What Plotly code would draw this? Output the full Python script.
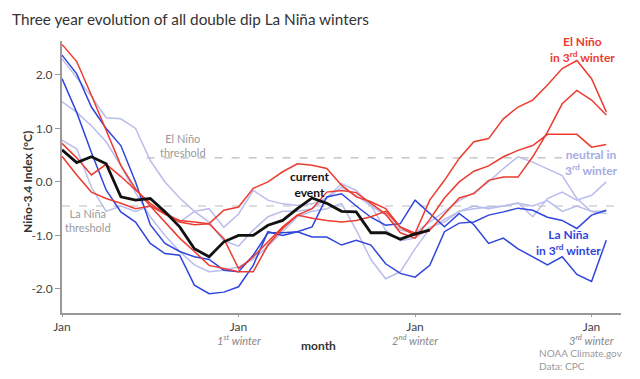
import plotly.graph_objects as go

months = list(range(38))
current_months = list(range(26))

red_a = [2.57, 2.25, 1.62, 0.96, 0.31, -0.13, -0.45, -0.6, -0.72, -0.75,
         -0.78, -0.53, -0.47, -0.12, 0.0, 0.19, 0.34, 0.31, 0.25, -0.06,
         -0.28, -0.37, -0.5, -0.84, -0.96, -0.34, 0.03, 0.44, 0.75, 0.81,
         1.18, 1.4, 1.53, 1.81, 2.12, 2.27, 1.93, 1.31]
red_b = [0.72, 0.45, 0.13, 0.33, 0.1, -0.15, -0.4, -0.6, -0.75, -0.8,
         -0.78, -1.06, -1.62, -1.4, -1.12, -0.84, -0.62, -0.68, -0.72, -0.75,
         -0.72, -0.65, -0.55, -0.85, -1.0, -0.9, -0.6, -0.3, -0.22, 0.03,
         0.09, 0.09, 0.47, 0.93, 1.46, 1.71, 1.53, 1.25]
red_c = [0.48, 0.13, -0.19, -0.31, -0.4, -0.5, -0.45, -0.75, -1.05, -1.3,
         -1.56, -1.62, -1.68, -1.68, -1.18, -0.87, -0.62, -0.5, -0.19, -0.16,
         -0.2, -0.4, -0.6, -0.95, -1.05, -0.7, -0.3, 0.0, 0.2, 0.3,
         0.47, 0.59, 0.68, 0.89, 0.89, 0.89, 0.65, 0.70]
blue_p = [1.93, 1.3, 0.55, -0.15, -0.56, -0.75, -1.15, -1.34, -1.37, -1.93,
          -2.09, -2.06, -1.96, -1.56, -0.93, -1.0, -0.93, -0.84, -0.28, -0.22,
          -0.45, -0.66, -0.81, -0.78, -0.34, -0.59, -0.84, -0.59, -0.8, -1.15,
          -1.05, -1.25, -1.4, -1.55, -1.4, -1.73, -1.86, -1.09]
blue_l = [2.37, 2.02, 1.4, 1.0, 0.68, 0.0, -0.8, -1.15, -1.3, -1.4,
          -1.45, -1.65, -1.68, -1.37, -0.95, -0.95, -0.93, -1.03, -1.03, -1.18,
          -1.09, -1.18, -1.53, -1.71, -1.78, -1.56, -0.93, -0.77, -0.75, -0.62,
          -0.56, -0.49, -0.53, -0.66, -0.72, -0.87, -0.62, -0.53]
light_1 = [2.3, 1.96, 1.6, 1.2, 1.18, 1.0, 0.4, 0.0, -0.3, -0.55,
           -0.75, -1.1, -1.2, -0.9, -0.65, -0.55, -0.55, -0.5, -0.3, -0.1,
           -0.25, -0.45, -0.62, -0.9, -0.95, -0.75, -0.55, -0.35, -0.2, 0.0,
           0.25, 0.47, 0.37, 0.25, 0.12, -0.31, -0.56, -0.59]
light_2 = [1.5, 1.3, 1.05, 0.75, 0.3, -0.2, -0.65, -1.0, -1.3, -1.55,
           -1.68, -1.65, -1.59, -1.45, -1.2, -0.93, -0.65, -0.55, -0.5, -0.4,
           -0.9, -1.45, -1.81, -1.68, -1.25, -0.87, -0.7, -0.55, -0.5, -0.47,
           -0.45, -0.39, -0.65, -0.31, -0.19, -0.34, -0.25, 0.0]
light_3 = [0.78, 0.62, -0.1, -0.55, -0.45, -0.55, -0.45, -0.55, -0.75, -0.55,
           -0.5, -0.85, -0.6, -0.16, -0.34, -0.41, -0.44, -0.41, -0.3, -0.03,
           -0.16, -0.44, -0.9, -1.1, -1.05, -0.85, -0.75, -0.55, -0.45, -0.5,
           -0.45, -0.4, -0.45, -0.35, -0.55, -0.45, -0.55, -0.55]
current = [0.6, 0.36, 0.47, 0.34, -0.28, -0.34, -0.31, -0.56, -0.84, -1.25,
           -1.4, -1.12, -1.0, -1.0, -0.81, -0.72, -0.5, -0.3, -0.4, -0.55,
           -0.56, -0.95, -0.95, -1.07, -0.97, -0.9]

tick_vals = [0, 12, 24, 36]
tick_main = ["Jan", "Jan", "Jan", "Jan"]
tick_sub = ["", "1<sup>st</sup> winter", "2<sup>nd</sup> winter", "3<sup>rd</sup> winter"]
y_ticks = [-2, -1, 0, 1, 2]
y_tick_text = ["-2.0", "-1.0", "0.0", "1.0", "2.0"]
el_nino_thr = 0.45
la_nina_thr = -0.45

RED = "#ec3b2f"
BLUE = "#2f45dc"
LIGHT = "#b9bdec"
FONT = "Lato"

fig = go.Figure()
for s in [light_1, light_2, light_3]:
    fig.add_trace(go.Scatter(x=months, y=s, mode="lines", line=dict(color=LIGHT, width=1.5)))
for s in [blue_p, blue_l]:
    fig.add_trace(go.Scatter(x=months, y=s, mode="lines", line=dict(color=BLUE, width=1.5)))
for s in [red_a, red_b, red_c]:
    fig.add_trace(go.Scatter(x=months, y=s, mode="lines", line=dict(color=RED, width=1.5)))
fig.add_trace(go.Scatter(x=current_months, y=current, mode="lines", line=dict(color="#111111", width=2.8)))

fig.add_shape(type="line", x0=5.75, x1=34.0, y0=el_nino_thr, y1=el_nino_thr, xref="x", yref="y",
              line=dict(color="#bbbbbb", width=1.2, dash="8px,9px"), layer="below")
fig.add_shape(type="line", x0=0, x1=38, y0=la_nina_thr, y1=la_nina_thr, xref="x", yref="y",
              line=dict(color="#bbbbbb", width=1.2, dash="8px,9px"), layer="below")

ann = [
    dict(text="El Niño<br>threshold", x=8.25, y=0.69, xref="x", yref="y", showarrow=False,
         xanchor="center", font=dict(size=11, color="#9a9a9a")),
    dict(text="La Niña<br>threshold", x=1.8, y=-0.72, xref="x", yref="y", showarrow=False,
         xanchor="center", font=dict(size=11, color="#9a9a9a")),
    dict(text="<b>current<br>event</b>", x=16.8, y=-0.05, xref="x", yref="y", showarrow=False,
         xanchor="center", font=dict(size=12, color="#111111")),
    dict(text="<b>El Niño<br>in 3<sup>rd</sup> winter</b>", x=35.4, y=2.48, xref="x", yref="y",
         showarrow=False, xanchor="center", font=dict(size=12, color=RED)),
    dict(text="<b>neutral in<br>3<sup>rd</sup> winter</b>", x=36.0, y=0.37, xref="x", yref="y",
         showarrow=False, xanchor="center", font=dict(size=12, color="#a6abe4")),
    dict(text="<b>La Niña<br>in 3<sup>rd</sup> winter</b>", x=34.4, y=-1.14, xref="x", yref="y",
         showarrow=False, xanchor="center", font=dict(size=12, color=BLUE)),
    dict(text="<b>month</b>", x=0.458, y=-0.12, xref="paper", yref="paper", showarrow=False,
         xanchor="center", yanchor="middle", font=dict(size=12, color="#333333")),
    dict(text="<b>Niño-3.4 Index (°C)</b>", x=-0.0609, y=0, xref="paper", yref="y", showarrow=False,
         xanchor="center", yanchor="middle", textangle=-90, font=dict(size=12, color="#333333")),
    dict(text="NOAA Climate.gov<br>Data: CPC", x=0.85, y=-0.172, xref="paper", yref="paper",
         xanchor="left", yanchor="middle", align="left", showarrow=False,
         font=dict(size=10, color="#9a9a9a")),
]
for v, s in zip(tick_vals, tick_sub):
    if s:
        ann.append(dict(text=f"<i>{s}</i>", x=v, y=-0.098, xref="x", yref="paper", showarrow=False,
                        xanchor="center", yanchor="middle", font=dict(size=11, color="#888888")))

# page body has an 8px margin, so the figure is 16px smaller than the window
fig.update_layout(
    width=624, height=363,
    margin=dict(l=54, r=11, t=33, b=58, autoexpand=False),
    paper_bgcolor="white", plot_bgcolor="white",
    showlegend=False,
    font=dict(family=FONT, size=12, color="#444444"),
    title=dict(text="Three year evolution of all double dip La Niña winters", x=4 / 624, xanchor="left",
               xref="container", y=1 - 12 / 363, yanchor="middle", yref="container",
               font=dict(family=FONT, size=15.3, color="#333333")),
    annotations=ann,
    xaxis=dict(range=[0, 38], tickvals=tick_vals, ticktext=tick_main, showgrid=False, zeroline=False,
               showline=True, linecolor="#999999", linewidth=2, ticks="outside", ticklen=2,
               tickcolor="#999999", tickfont=dict(size=12, color="#444444"), automargin=False),
    yaxis=dict(range=[-2.45, 2.634], tickvals=y_ticks, ticktext=y_tick_text, showgrid=False,
               zeroline=False, showline=True, linecolor="#999999", linewidth=2, ticks="outside",
               ticklen=5, tickcolor="#999999", tickfont=dict(size=12, color="#444444"),
               automargin=False),
)

fig.write_html("out.html")
